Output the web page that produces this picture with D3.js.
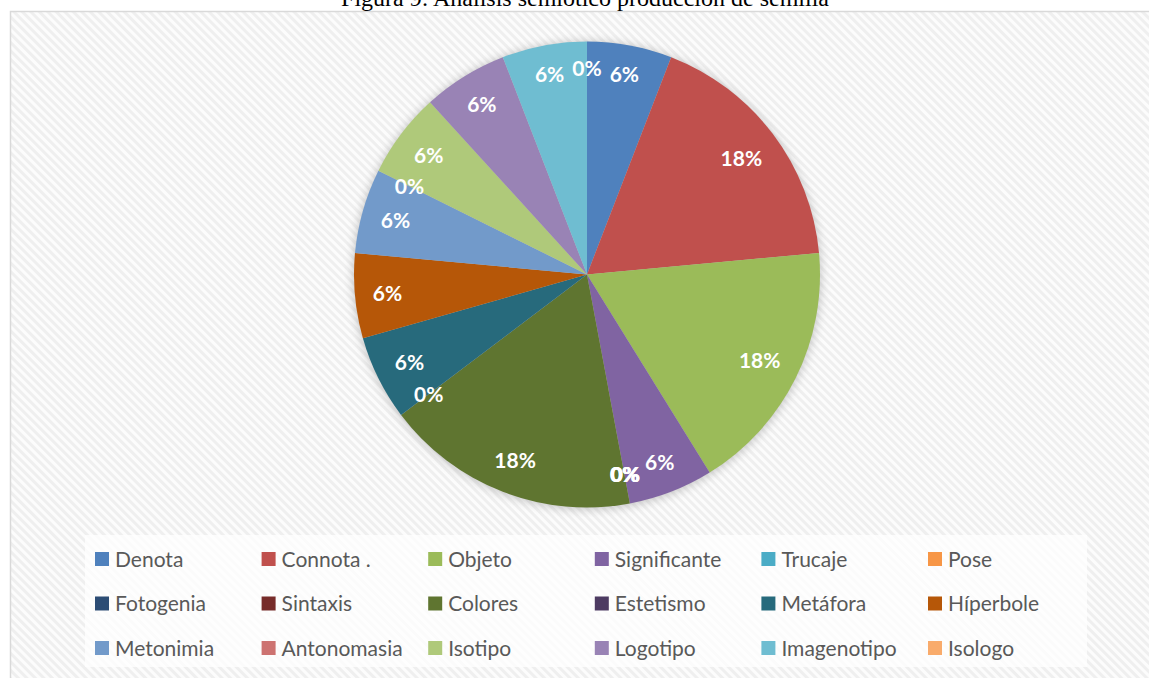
<!DOCTYPE html>
<html>
<head>
<meta charset="utf-8">
<script src="https://cdn.jsdelivr.net/npm/d3@7/dist/d3.min.js"></script>
<style>
  html, body { margin: 0; padding: 0; background: #fff; }
  svg { display: block; }
</style>
</head>
<body>
<svg id="chart" width="1149" height="678"></svg>
<script>
// Semiotic analysis categories and their counts (percent labels are share of total)
const categories = ["Denota", "Connota .", "Objeto", "Significante", "Trucaje", "Pose",
  "Fotogenia", "Sintaxis", "Colores", "Estetismo", "Metáfora", "Híperbole",
  "Metonimia", "Antonomasia", "Isotipo", "Logotipo", "Imagenotipo", "Isologo"];
const counts = [1, 3, 3, 1, 0, 0, 0, 0, 3, 0, 1, 1, 1, 0, 1, 1, 1, 0];
const colors = ["#4F81BD", "#C0504D", "#9BBB59", "#8064A2", "#4BACC6", "#F79646",
  "#2C4D75", "#772C2A", "#5F7530", "#4D3B62", "#276A7C", "#B65708",
  "#729ACA", "#CD7371", "#AFC97A", "#9983B5", "#6FBDD1", "#F9AB6B"];
const titleText = "Figura 9: Análisis semiótico producción de semilla";

const W = 1149, H = 678;
const svg = d3.select("#chart");
const defs = svg.append("defs");

// diagonal hatch used as the chart area fill
const pat = defs.append("pattern")
  .attr("id", "hatch").attr("patternUnits", "userSpaceOnUse")
  .attr("width", 6).attr("height", 6)
  .attr("patternTransform", "rotate(-45)");
pat.append("rect").attr("width", 6).attr("height", 6).attr("fill", "#fcfcfc");
pat.append("rect").attr("width", 3).attr("height", 6).attr("fill", "#efefef");

// soft shadow behind the pie
const f = defs.append("filter").attr("id", "pieShadow")
  .attr("x", "-20%").attr("y", "-20%").attr("width", "140%").attr("height", "140%");
f.append("feGaussianBlur").attr("stdDeviation", 5);

// chart area frame
svg.append("rect")
  .attr("x", 10.5).attr("y", 11.5).attr("width", W + 20).attr("height", H + 20)
  .attr("fill", "url(#hatch)").attr("stroke", "#d9d9d9").attr("stroke-width", 1.5);

// title (partly above the frame)
svg.append("text")
  .attr("x", 585).attr("y", 6)
  .attr("text-anchor", "middle")
  .attr("font-family", "'Liberation Serif', 'Times New Roman', serif")
  .attr("font-size", 24).attr("fill", "#000")
  .text(titleText);

// pie
const cx = 587, cy = 274.5, R = 233;
const total = d3.sum(counts);
const pie = d3.pie().sort(null).value(d => d.v);
const arcs = pie(categories.map((c, i) => ({ c, v: counts[i], color: colors[i] })));
const arc = d3.arc().innerRadius(0).outerRadius(R);

const g = svg.append("g").attr("transform", `translate(${cx},${cy})`);
g.append("circle").attr("r", R + 1).attr("cy", 1)
  .attr("fill", "#9a9a9a").attr("opacity", 0.55).attr("filter", "url(#pieShadow)");

g.selectAll("path.slice").data(arcs.filter(d => d.data.v > 0)).join("path")
  .attr("class", "slice")
  .attr("d", arc)
  .attr("fill", d => d.data.color);

// percentage labels, placed just inside the outer edge of each slice
const fmt = d3.format(".0%");
const seen = {};
arcs.forEach(d => {
  const a = (d.startAngle + d.endAngle) / 2;
  const t = g.append("text")
    .attr("font-family", "Lato, 'Open Sans', sans-serif")
    .attr("font-weight", 700).attr("font-size", 21)
    .attr("fill", "#fff").attr("text-anchor", "middle")
    .attr("dy", "0.36em")
    .text(fmt(d.data.v / total));
  const w = t.node().getComputedTextLength();
  const proj = (w / 2) * Math.abs(Math.sin(a)) + 10 * Math.abs(Math.cos(a));
  const r = R - 17 - proj;
  const key = a.toFixed(4);
  const k = seen[key] = (seen[key] === undefined ? 0 : seen[key] + 1);
  t.attr("x", r * Math.sin(a) + k * 0.4).attr("y", -r * Math.cos(a));
});

// legend
const legend = svg.append("g");
legend.append("rect")
  .attr("x", 85).attr("y", 535).attr("width", 1002).attr("height", 132)
  .attr("fill", "#ffffff").attr("opacity", 0.75);
const colX = d3.scaleLinear().domain([0, 1]).range([95, 261.6]);
const rowY = d3.scaleLinear().domain([0, 1]).range([559, 603.5]);
categories.forEach((c, i) => {
  const col = i % 6, row = Math.floor(i / 6);
  const x = colX(col), y = rowY(row);
  legend.append("rect").attr("x", x).attr("y", y - 7).attr("width", 14).attr("height", 14)
    .attr("fill", colors[i]);
  legend.append("text").attr("x", x + 20).attr("y", y).attr("dy", "0.36em")
    .attr("font-family", "Lato, 'Open Sans', sans-serif")
    .attr("font-size", 21).attr("fill", "#595959")
    .text(c);
});
</script>
</body>
</html>
